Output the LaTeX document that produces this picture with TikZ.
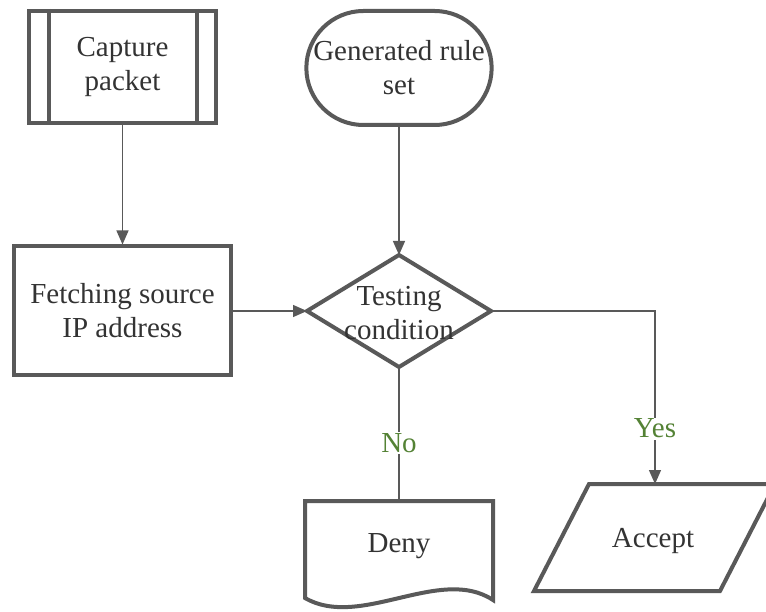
\documentclass[tikz,border=0pt]{standalone}
\usepackage{fontspec}
\setmainfont{Liberation Serif}
\usetikzlibrary{arrows.meta,shapes.misc}
\definecolor{edgec}{RGB}{89,89,89}
\definecolor{txtc}{RGB}{51,51,51}
\definecolor{lblc}{RGB}{84,130,53}
\begin{document}
\begin{tikzpicture}[x=1pt,y=-1pt,
  shapeline/.style={draw=edgec,line width=4pt,fill=white},
  txtstyle/.style={text=txtc,font=\fontsize{29}{34}\selectfont,align=center},
  conn/.style={draw=edgec,line width=1.3pt},
  arr/.style={conn,-{Triangle[length=14pt,width=12pt]}},
  lab/.style={fill=white,text=lblc,font=\fontsize{29}{34}\selectfont,inner sep=1.5pt}]
\clip (0,0) rectangle (766,612);
\fill[white] (0,0) rectangle (766,612);

% Capture packet (predefined process)
\node[shapeline,txtstyle,rectangle,minimum width=187pt,minimum height=112pt,inner sep=0pt] (cap) at (122.5,67) {Capture\\packet};
\draw[edgec,line width=4pt] ([xshift=22pt]cap.north west) -- ([xshift=22pt]cap.south west);
\draw[edgec,line width=4pt] ([xshift=-21pt]cap.north east) -- ([xshift=-21pt]cap.south east);

% Generated rule set (terminator)
\node[shapeline,txtstyle,rounded rectangle,minimum width=184pt,minimum height=114pt,inner sep=0pt] (rules) at (399,68) {Generated rule\\set};

% Fetching source IP address
\node[shapeline,txtstyle,rectangle,minimum width=217pt,minimum height=129pt] (fetch) at (122.5,311) {Fetching source\\IP address};

% Decision diamond
\coordinate (dt) at (399,255);
\coordinate (dr) at (491,311);
\coordinate (db) at (399,367);
\coordinate (dl) at (307,311);
\draw[shapeline] (dt) -- (dr) -- (db) -- (dl) -- cycle;
\node[txtstyle] (test) at (399,313) {Testing\\condition};

% Deny (document)
\coordinate (denytop) at (399,501);
\draw[shapeline] (305,501) -- (493,501) -- (493,600) .. controls (440,565) and (360,630) .. (305,598) -- cycle;
\node[txtstyle] (deny) at (399,546) {Deny};

% Accept (data)
\coordinate (acctop) at (655,484);
\draw[shapeline] (589,484) -- (775,484) -- (720,591) -- (534,591) -- cycle;
\node[txtstyle] (acc) at (653,541) {Accept};

% Connectors
\draw[arr] (cap.south) -- (fetch.north);
\draw[arr] (rules.south) -- (dt);
\draw[arr] (fetch.east) -- (dl);
\draw[conn] (db) -- (denytop) node[lab,pos=0.567] (no) {No};
\draw[arr] (dr) -| (acctop) node[lab,pos=0.84] (yes) {Yes};
\end{tikzpicture}
\end{document}
